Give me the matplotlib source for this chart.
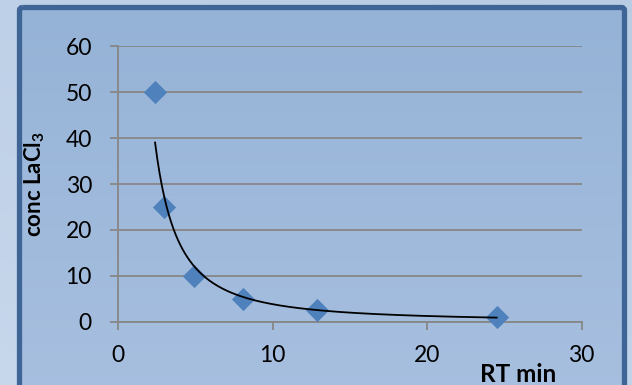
import numpy as np
import matplotlib
matplotlib.use("Agg")
import matplotlib.pyplot as plt
from matplotlib.patches import FancyBboxPatch

# === Data ===
rt_min = [2.38, 2.98, 4.88, 8.10, 12.89, 24.5]
conc_lacl3 = [50, 25, 10, 5, 2.5, 1]
x_ticks = [0, 10, 20, 30]
y_ticks = [0, 10, 20, 30, 40, 50, 60]

plt.rcParams['font.family'] = ['Lato', 'DejaVu Sans']

W, H = 632, 385
fig = plt.figure(figsize=(W / 100, H / 100), dpi=100)

# === Background: outer gradient + framed panel ===
bg = fig.add_axes([0, 0, 1, 1], zorder=0)
bg.set_xlim(0, W)
bg.set_ylim(H, 0)
bg.axis('off')
gy, gx = np.mgrid[0:1:200j, 0:1:200j]
outer = np.zeros((200, 200, 3))
c_top = np.array([0.722, 0.800, 0.894])
c_bot = np.array([0.780, 0.843, 0.925])
t = np.clip(0.6 * gy + 0.4 * (1 - gx), 0, 1)[..., None]
outer[:] = c_top * (1 - t) + c_bot * t
bg.imshow(outer, extent=[0, W, H, 0], aspect='auto')

frame = FancyBboxPatch((19.5, 7.5), 605, 400, boxstyle="round,pad=0,rounding_size=3",
                       facecolor='none', edgecolor='#3e6596', linewidth=3.8, zorder=3)
inner = np.linspace(0, 1, 200)[:, None, None]
c1 = np.array([0.584, 0.702, 0.843])
c2 = np.array([0.655, 0.749, 0.875])
panel = np.repeat(c1 * (1 - inner) + c2 * inner, 2, axis=1)
im = bg.imshow(panel, extent=[19.5, 624.5, H, 7.5], aspect='auto', zorder=2)
clip = FancyBboxPatch((19.5, 7.5), 605, 400, boxstyle="round,pad=0,rounding_size=3",
                      transform=bg.transData, facecolor='none', edgecolor='none')
im.set_clip_path(clip)
bg.add_patch(frame)

# === Plot area ===
ax = fig.add_axes([0.1872, 0.1644, 0.7331, 0.7151], zorder=1)
ax.patch.set_alpha(0)

grid_c = '#878787'
ax.set_xlim(0, 30)
ax.set_ylim(0, 60)
ax.set_xticks(x_ticks)
ax.set_yticks(y_ticks)
ax.grid(axis='y', color=grid_c, linewidth=1.3)
ax.set_axisbelow(True)
for s in ['top', 'right']:
    ax.spines[s].set_visible(False)
for s in ['left', 'bottom']:
    ax.spines[s].set_color(grid_c)
    ax.spines[s].set_linewidth(1.3)
ax.tick_params(axis='both', direction='out', length=5.5, width=1.3, color=grid_c,
               labelsize=16.5)
ax.tick_params(axis='x', pad=11.5)
ax.tick_params(axis='y', pad=13.5)

ax.scatter(rt_min, conc_lacl3, marker='D', s=140, color='#4f81bd', zorder=3,
           linewidths=0, clip_on=False)

# power trendline (least squares in log space)
b, ln_a = np.polyfit(np.log(rt_min), np.log(conc_lacl3), 1)
xs = np.linspace(min(rt_min), max(rt_min), 300)
ax.plot(xs, np.exp(ln_a) * xs ** b, color='black', linewidth=1.3, zorder=4)

ax.set_ylabel('conc LaCl$_\\mathregular{3}$', fontsize=16, fontweight='bold')
ax.yaxis.set_label_coords(-0.154, 0.5)
ax.set_xlabel('RT min', fontsize=17.5, fontweight='bold', va='center')
ax.xaxis.set_label_coords(0.863, -0.19)

fig.savefig('out.png', dpi=100)
